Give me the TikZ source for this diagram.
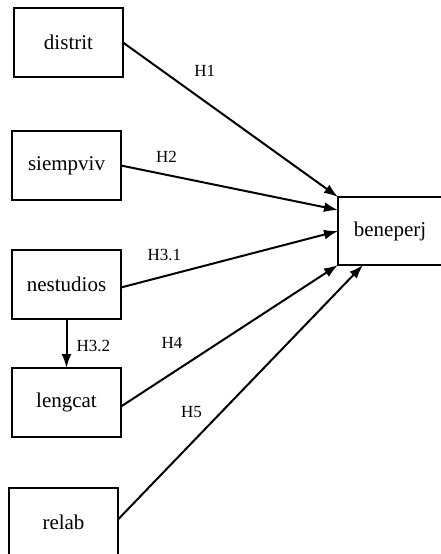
\documentclass[tikz,border=0pt]{standalone}
\usepackage{fontspec}
\setmainfont{Liberation Serif}
\usetikzlibrary{arrows.meta, positioning}

\begin{document}
\begin{tikzpicture}[
  x=1pt, y=-1pt,
  var/.style={draw, rectangle, line width=2pt, minimum width=109pt,
              minimum height=69pt, inner sep=0pt, outer sep=0pt,
              font=\fontsize{21}{25}\selectfont},
  path/.style={-{Latex[length=14pt, width=10pt]}, line width=2pt},
  hyp/.style={font=\fontsize{17}{20}\selectfont, inner sep=1pt},
  node distance=50pt
]
\useasboundingbox (0,0) rectangle (441,554);

\node[var] (distrit) at (68.5,42.5) {distrit};
\node[var, below=54pt of distrit, xshift=-2pt] (siempviv) {siempviv};
\node[var, below=of siempviv] (nestudios) {nestudios};
\node[var, below=49pt of nestudios] (lengcat) {lengcat};
\node[var, below=51pt of lengcat, xshift=-3pt] (relab) {relab};

\node[var, minimum width=104pt, minimum height=68pt, anchor=west] (beneperj)
  at (338,231) {beneperj};

\draw[path] (distrit.east) -- node[hyp, pos=0.38, yshift=30pt]{H1}
  (beneperj.north west);
\draw[path] (siempviv.east) -- node[hyp, pos=0.21, yshift=18pt]{H2}
  ([yshift=21pt]beneperj.west);
\draw[path] ([yshift=-3pt]nestudios.east) -- node[hyp, pos=0.2, yshift=21pt]{H3.1}
  (beneperj.west);
\draw[path] (nestudios) -- node[hyp, pos=0.55, right=8pt]{H3.2} (lengcat);
\draw[path] ([yshift=-4pt]lengcat.east) -- node[hyp, pos=0.235, yshift=30pt]{H4}
  (beneperj.south west);
\draw[path] ([yshift=3pt]relab.east) -- node[hyp, pos=0.3, yshift=31pt]{H5}
  ([xshift=25pt]beneperj.south west);
\end{tikzpicture}
\end{document}
